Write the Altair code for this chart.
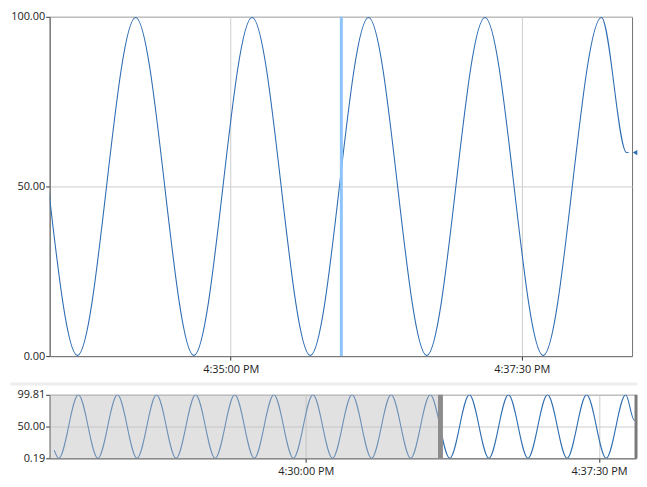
import altair as alt
import pandas as pd

DAY = "2024-01-01T"
BLUE = "#2f6db3"

# sampled turning points of the signal (time of day, value)
times = [
    "16:23:34", "16:23:41",
    "16:24:11", "16:24:41", "16:25:11", "16:25:41", "16:26:11", "16:26:41",
    "16:27:11", "16:27:41", "16:28:11", "16:28:41", "16:29:11", "16:29:41",
    "16:30:11", "16:30:41", "16:31:11", "16:31:41", "16:32:11", "16:32:41",
    "16:33:11", "16:33:41", "16:34:11", "16:34:41", "16:35:11", "16:35:41",
    "16:36:11", "16:36:41", "16:37:11", "16:37:41", "16:38:11",
    "16:38:24", "16:38:25",
]
values = [
    12.8, 0.19,
    99.81, 0.19, 99.81, 0.19, 99.81, 0.19,
    99.81, 0.19, 99.81, 0.19, 99.81, 0.19,
    99.81, 0.19, 99.81, 0.19, 99.81, 0.19,
    99.81, 0.19, 99.81, 0.19, 99.81, 0.19,
    99.81, 0.19, 99.81, 0.19, 99.81,
    60.0, 60.0,
]

cursor_time = "16:35:57"
window_start = "16:33:26.7"
window_end = "16:38:26.8"
overview_start = "16:23:27"

main_ticks = ["16:35:00", "16:37:30"]
overview_ticks = ["16:30:00", "16:37:30"]
main_y_ticks = [0, 50, 100]
overview_y_ticks = [0.19, 50, 99.81]

MAIN_W, MAIN_H = 587, 342
OV_W, OV_H = 591, 64


def ts(s):
    return DAY + s + "Z"


df = pd.DataFrame({"t": [ts(s) for s in times], "v": values})
last = df.iloc[[-1]]

LABEL = "utcFormat(datum.value, '%-I:%M:%S %p')"

# ---------- main chart ----------
x_main = alt.X(
    "t:T",
    scale=alt.Scale(type="utc", domain=[ts(window_start), ts(window_end)]),
    axis=alt.Axis(values=[ts(s) for s in main_ticks], labelExpr=LABEL, title=None,
                  grid=True, labelPadding=4),
)
y_main = alt.Y(
    "v:Q",
    scale=alt.Scale(domain=[0, 100], nice=False, zero=False),
    axis=alt.Axis(values=main_y_ticks, format=".2f", title=None, grid=True),
)

main_line = alt.Chart(df).mark_line(
    color=BLUE, strokeWidth=1.1, interpolate="monotone", clip=True
).encode(x=x_main, y=y_main)

cursor = alt.Chart(pd.DataFrame({"t": [ts(cursor_time)]})).mark_rule(
    color="#8cc4fb", strokeWidth=3
).encode(x=alt.X("t:T", scale=alt.Scale(type="utc")))

marker = alt.Chart(last).mark_point(
    shape="triangle-left", filled=True, size=28, color=BLUE, opacity=1
).encode(x=alt.value(MAIN_W + 3), y=alt.Y("v:Q"))

main = alt.layer(main_line, cursor, marker).properties(width=MAIN_W, height=MAIN_H)

# ---------- overview chart ----------
x_ov = alt.X(
    "t:T",
    scale=alt.Scale(type="utc", domain=[ts(overview_start), ts(window_end)]),
    axis=alt.Axis(values=[ts(s) for s in overview_ticks], labelExpr=LABEL, title=None,
                  grid=True, labelPadding=3),
)
y_ov = alt.Y(
    "v:Q",
    scale=alt.Scale(domain=[0.19, 99.81], nice=False, zero=False),
    axis=alt.Axis(values=overview_y_ticks, format=".2f", title=None, grid=True),
)

ov_line = alt.Chart(df).mark_line(
    color=BLUE, strokeWidth=1.1, interpolate="monotone", clip=True
).encode(x=x_ov, y=y_ov)

shade_df = pd.DataFrame({"s": [ts(overview_start)], "e": [ts(window_start)]})
shade = alt.Chart(shade_df).mark_rect(color="#bdbdbd", opacity=0.45).encode(
    x=alt.X("s:T", scale=alt.Scale(type="utc")), x2="e:T"
)
handle_l = alt.Chart(pd.DataFrame({"t": [ts(window_start)]})).mark_rule(
    color="#8c8c8c", strokeWidth=5
).encode(x=alt.X("t:T", scale=alt.Scale(type="utc")))
handle_r = alt.Chart(pd.DataFrame({"t": [ts(window_end)]})).mark_rule(
    color="#7a7a7a", strokeWidth=3
).encode(x=alt.X("t:T", scale=alt.Scale(type="utc")))

separator = alt.Chart(pd.DataFrame({"a": [0]})).mark_rule(
    color="#eeeeee", strokeWidth=3, clip=False
).encode(x=alt.value(-40), x2=alt.value(OV_W + 1), y=alt.value(-11))

overview = alt.layer(ov_line, shade, handle_l, handle_r, separator).properties(
    width=OV_W, height=OV_H
)

chart = (
    alt.vconcat(main, overview, spacing=6)
    .properties(padding={"left": 0, "top": 0, "right": 0, "bottom": 0})
    .configure_view(stroke="#707070", strokeWidth=1)
    .configure_axis(
        labelFont="Open Sans",
        labelFontSize=11,
        labelColor="#222222",
        domainColor="#707070",
        tickColor="#333333",
        tickSize=4,
        labelPadding=1,
        gridColor="#cccccc",
        gridWidth=1,
    )
)

chart.save("out.html", embed_options={"renderer": "svg", "actions": False})
